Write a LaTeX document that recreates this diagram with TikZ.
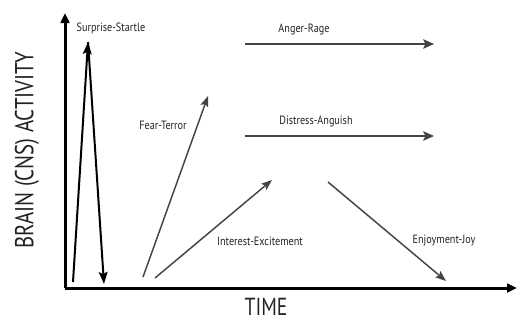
\documentclass[tikz,border=0pt]{standalone}
\usepackage{fontspec}
\setmainfont{PT Sans}
\newfontfamily\axisfont[FakeStretch=0.8]{PT Sans}
\newfontfamily\emofont[FakeStretch=0.85]{PT Sans}
\usetikzlibrary{arrows.meta}
\definecolor{emogray}{RGB}{68,68,68}
\definecolor{textgray}{RGB}{35,35,35}
\tikzset{every picture/.style={line width=0.75pt}}
\tikzset{
  axisline/.style={line width=2.25pt, -{Triangle[length=7.5pt,width=6.5pt]}},
  spikeline/.style={line width=1.5pt, -{Stealth[length=9pt,width=6.5pt,inset=1.5pt]}},
  emoline/.style={color=emogray, line width=1.1pt, -{Stealth[length=8pt,width=6pt,inset=1.5pt]}},
  flatline/.style={color=emogray, line width=1.9pt, -{Stealth[length=8pt,width=7pt,inset=1.5pt]}},
  emolabel/.style={inner sep=0.75pt, color=textgray, font=\emofont\fontsize{9}{10}\selectfont},
  axislabel/.style={inner sep=0.75pt, color=textgray, font=\axisfont\fontsize{19.5}{20}\selectfont},
}

\begin{document}
\begin{tikzpicture}[x=0.75pt,y=0.75pt,yscale=-1,xscale=1]
\useasboundingbox (0,0) rectangle (517,322);

%Axes
\coordinate (origin) at (65,288);
\coordinate (ytip) at (65,13);
\coordinate (xtip) at (517,288);
\draw [axisline] (origin) -- (ytip);
\draw [axisline] (origin) -- (xtip);

%Surprise spike
\coordinate (spikeL) at (73,282);
\coordinate (spikeTop) at (88,42);
\coordinate (spikeR) at (104,284);
\draw [spikeline] (spikeL) -- (spikeTop);
\draw [spikeline] (spikeTop) -- (spikeR);

%Rising and falling lines
\coordinate (fearS) at (143,277);
\coordinate (fearE) at (208,96);
\draw [emoline] (fearS) -- (fearE);
\coordinate (interestS) at (155,278);
\coordinate (interestE) at (272,180);
\draw [emoline] (interestS) -- (interestE);
\coordinate (enjoyS) at (328,182);
\coordinate (enjoyE) at (446,281);
\draw [emoline] (enjoyS) -- (enjoyE);

%Flat lines
\coordinate (angerS) at (245,44);
\coordinate (angerE) at (434,44);
\draw [flatline] (angerS) -- (angerE);
\coordinate (distressS) at (245,136);
\coordinate (distressE) at (434,136);
\draw [flatline] (distressS) -- (distressE);

% Text Node
\draw (111,28) node (surprise) [emolabel] {Surprise-Startle};
% Text Node
\draw (163,125) node (fear) [emolabel] {Fear-Terror};
% Text Node
\draw (260,241) node (interest) [emolabel] {Interest-Excitement};
% Text Node
\draw (444,241) node (enjoy) [emolabel] {Enjoyment-Joy};
% Text Node
\draw (304,30) node (anger) [emolabel] {Anger-Rage};
% Text Node
\draw (316,122) node (distress) [emolabel] {Distress-Anguish};
% Text Node
\draw (266,307) node (time) [axislabel, font=\axisfont\fontsize{18.5}{19}\selectfont] {TIME};
% Text Node
\draw (27,150) node (activity) [axislabel, rotate=90] {BRAIN (CNS) ACTIVITY};

\end{tikzpicture}
\end{document}
